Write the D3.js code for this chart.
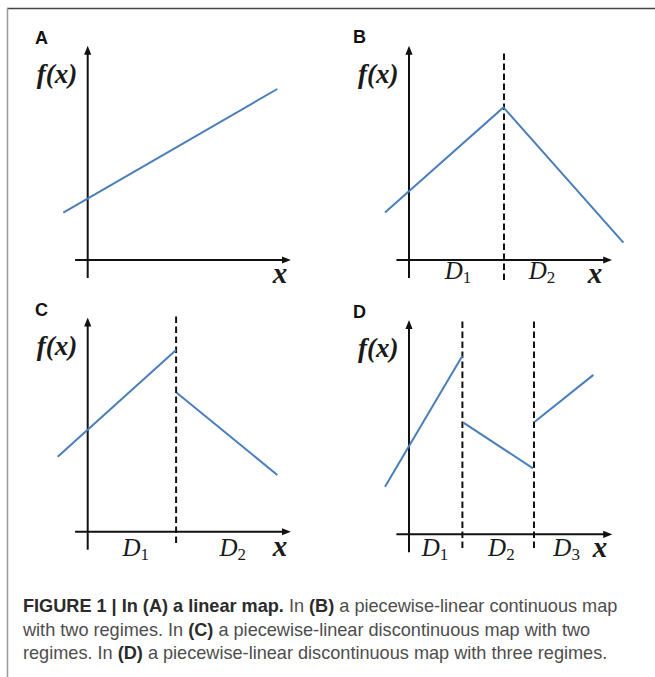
<!DOCTYPE html>
<html>
<head>
<meta charset="utf-8">
<script src="https://cdn.jsdelivr.net/npm/d3@7"></script>
<style>
  html, body { margin: 0; padding: 0; background: #fff; }
  svg { display: block; }
</style>
</head>
<body>
<div id="chart"></div>
<script>
(function(d3) {

    "use strict";

    // ---- data (map units, origin at the axes crossing) ----
    var panelIds = ["A", "B", "C", "D"];

    var segmentsA = [[[-1.22, 2.37], [9.48, 8.55]]];
    var segmentsB = [[[-1.2, 2.37], [4.72, 7.63], [10.72, 0.87]]];
    var segmentsC = [[[-1.5, 3.75], [4.42, 9.09]], [[4.45, 6.95], [9.48, 2.84]]];
    var segmentsD = [[[-1.2, 2.38], [2.67, 8.93]], [[2.7, 5.6], [6.2, 3.3]], [[6.29, 5.63], [9.22, 7.97]]];

    var boundsA = [];
    var boundsB = [4.75];
    var boundsC = [4.42];
    var boundsD = [2.67, 6.25];

    var regionLabels = ["1", "2", "3"];
    var regionPosA = [];
    var regionPosB = [2.45, 6.65];
    var regionPosC = [2.4, 7.25];
    var regionPosD = [1.3, 4.62, 7.88];

    var xAxisExtent = [-0.63, 9.8];
    var yAxisExtent = [-0.9, 10.35];

    var captionLines = [
        [["FIGURE 1 | In (A) a linear map.", true], [" In ", false], ["(B)", true], [" a piecewise-linear continuous map", false]],
        [["with two regimes. In ", false], ["(C)", true], [" a piecewise-linear discontinuous map with two", false]],
        [["regimes. In ", false], ["(D)", true], [" a piecewise-linear discontinuous map with three regimes.", false]]
    ];

    // ---- layout ----
    var W = 655, H = 677, UNIT = 20;
    var blue = "#4a7ebb";
    var serif = "'Liberation Serif', 'Times New Roman', serif";
    var sans = "'Liberation Sans', Arial, Helvetica, sans-serif";

    var layout = {
        A: { ox: 87.7, oy: 260, letter: [35, 44], dash: null, dBase: 0, xLab: [280, 283], segs: segmentsA, bounds: boundsA, regions: regionPosA },
        B: { ox: 409, oy: 260, letter: [353, 43], dash: [-1.0, 10.4], dBase: 279, xLab: [595, 283], segs: segmentsB, bounds: boundsB, regions: regionPosB },
        C: { ox: 87.7, oy: 531.7, letter: [35, 316], dash: [-0.57, 10.89], dBase: 556, xLab: [280, 556], segs: segmentsC, bounds: boundsC, regions: regionPosC },
        D: { ox: 409, oy: 534.3, letter: [353, 318], dash: [-0.69, 10.72], dBase: 556, xLab: [600, 557], segs: segmentsD, bounds: boundsD, regions: regionPosD }
    };

    var svg = d3.select("#chart").append("svg")
        .attr("width", W)
        .attr("height", H);

    var defs = svg.append("defs");
    defs.append("marker")
        .attr("id", "arrow")
        .attr("viewBox", "0 0 10 10")
        .attr("refX", 2)
        .attr("refY", 5)
        .attr("markerWidth", 4.5)
        .attr("markerHeight", 4.5)
        .attr("markerUnits", "strokeWidth")
        .attr("orient", "auto")
        .append("path")
        .attr("d", "M0,1 L10,5 L0,9 Z")
        .attr("fill", "#111");

    // figure frame (top and left rule)
    svg.append("line")
        .attr("x1", 7).attr("y1", 8.5).attr("x2", W).attr("y2", 8.5)
        .attr("stroke", "#444").attr("stroke-width", 1.5);
    svg.append("line")
        .attr("x1", 7.5).attr("y1", 8).attr("x2", 7.5).attr("y2", H)
        .attr("stroke", "#999").attr("stroke-width", 1.5);

    var line = d3.line();

    panelIds.forEach(function(id) {
        var p = layout[id];
        var x = d3.scaleLinear().domain([0, 1]).range([p.ox, p.ox + UNIT]);
        var y = d3.scaleLinear().domain([0, 1]).range([p.oy, p.oy - UNIT]);
        var g = svg.append("g").attr("class", "panel panel-" + id);

        g.append("text")
            .attr("x", p.letter[0])
            .attr("y", p.letter[1])
            .attr("font-family", sans)
            .attr("font-weight", "bold")
            .attr("font-size", 18)
            .attr("fill", "#111")
            .text(id);

        // dashed regime boundaries
        g.selectAll(".bound")
            .data(p.bounds)
            .enter()
            .append("line")
            .attr("class", "bound")
            .attr("x1", function(d) { return x(d); })
            .attr("x2", function(d) { return x(d); })
            .attr("y1", y(p.dash ? p.dash[0] : 0))
            .attr("y2", y(p.dash ? p.dash[1] : 0))
            .attr("stroke", "#111")
            .attr("stroke-width", 2)
            .attr("stroke-dasharray", "6.5,3.5");

        // axes
        g.append("line")
            .attr("x1", x(xAxisExtent[0])).attr("y1", y(0))
            .attr("x2", x(xAxisExtent[1])).attr("y2", y(0))
            .attr("stroke", "#111").attr("stroke-width", 2)
            .attr("marker-end", "url(#arrow)");
        g.append("line")
            .attr("x1", x(0)).attr("y1", y(yAxisExtent[0]))
            .attr("x2", x(0)).attr("y2", y(yAxisExtent[1]))
            .attr("stroke", "#111").attr("stroke-width", 2)
            .attr("marker-end", "url(#arrow)");

        // map segments
        g.selectAll(".seg")
            .data(p.segs)
            .enter()
            .append("path")
            .attr("class", "seg")
            .attr("d", function(d) {
                return line(d.map(function(pt) { return [x(pt[0]), y(pt[1])]; }));
            })
            .attr("fill", "none")
            .attr("stroke", blue)
            .attr("stroke-width", 2);

        // f(x) label
        g.append("text")
            .attr("x", p.ox - 51)
            .attr("y", p.oy - 177)
            .attr("font-family", serif)
            .attr("font-style", "italic")
            .attr("font-weight", "bold")
            .attr("font-size", 27)
            .attr("fill", "#1a1a1a")
            .text("f(x)");

        // x label
        g.append("text")
            .attr("x", p.xLab[0])
            .attr("y", p.xLab[1])
            .attr("text-anchor", "middle")
            .attr("font-family", serif)
            .attr("font-style", "italic")
            .attr("font-weight", "bold")
            .attr("font-size", 29)
            .attr("fill", "#1a1a1a")
            .text("x");

        // regime labels D1, D2, ...
        var reg = g.selectAll(".regime")
            .data(p.regions)
            .enter()
            .append("text")
            .attr("class", "regime")
            .attr("x", function(d) { return x(d); })
            .attr("y", p.dBase)
            .attr("text-anchor", "middle")
            .attr("font-family", serif)
            .attr("font-size", 25)
            .attr("fill", "#1a1a1a");
        reg.append("tspan")
            .attr("font-style", "italic")
            .text("D");
        reg.append("tspan")
            .attr("font-size", 17)
            .attr("dy", 4)
            .text(function(d, i) { return regionLabels[i]; });
    });

    // caption
    var cap = svg.append("g").attr("class", "caption");
    var capSize = 17;
    captionLines.forEach(function(spans, i) {
        var t = cap.append("text")
            .attr("x", 23)
            .attr("y", 612 + i * 23.5)
            .attr("font-family", sans)
            .attr("font-size", capSize)
            .attr("fill", "#4d4d4d");
        spans.forEach(function(s) {
            t.append("tspan")
                .attr("font-weight", s[1] ? "bold" : "normal")
                .attr("fill", s[1] ? "#2b2b2b" : "#4d4d4d")
                .text(s[0]);
        });
    });

    // fit caption font so the first line spans the same width as the figure
    var first = cap.select("text").node();
    var len = first.getComputedTextLength();
    var fitted = capSize * 595 / len;
    cap.selectAll("text").attr("font-size", fitted);

})(d3);
</script>
</body>
</html>
